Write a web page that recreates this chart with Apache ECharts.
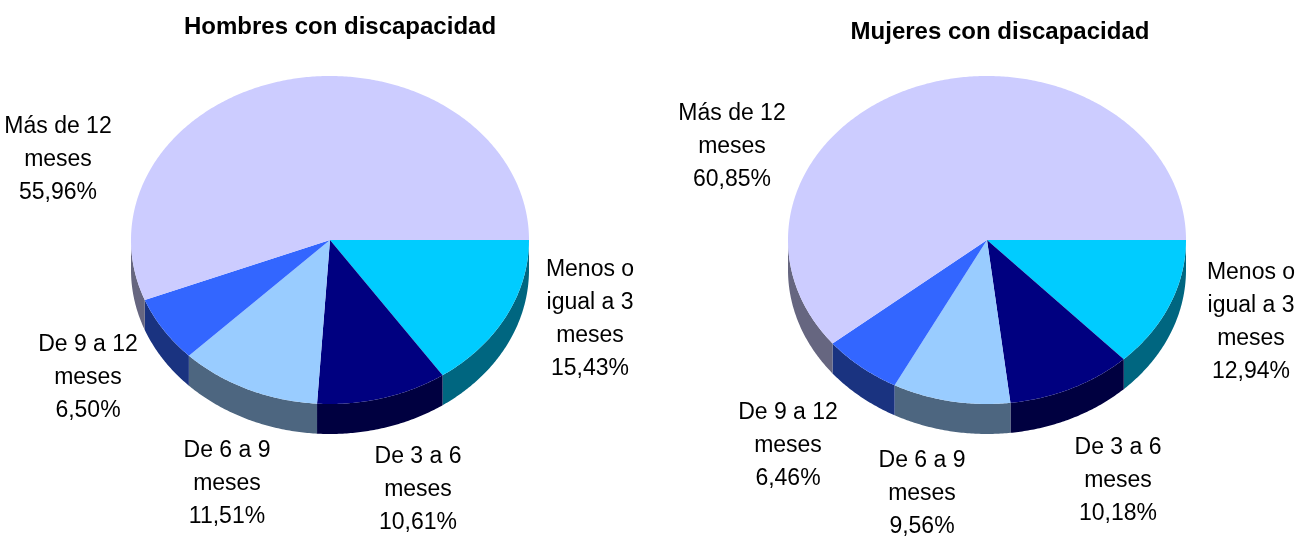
<!DOCTYPE html>
<html>
<head>
<meta charset="utf-8">
<script src="https://cdn.jsdelivr.net/npm/echarts@6/dist/echarts.min.js"></script>
<style>
    html, body { margin: 0; padding: 0; background: #ffffff; }
    #chart { width: 1296px; height: 536px; }
</style>
</head>
<body>
<div id="chart"></div>
<script>
// datos
var categorias = ['Menos o igual a 3 meses', 'De 3 a 6 meses', 'De 6 a 9 meses', 'De 9 a 12 meses', 'Más de 12 meses'];
var etiquetas = ['Menos o\nigual a 3\nmeses', 'De 3 a 6\nmeses', 'De 6 a 9\nmeses', 'De 9 a 12\nmeses', 'Más de 12\nmeses'];
var hombres = [15.43, 10.61, 11.51, 6.50, 55.96];
var mujeres = [12.94, 10.18, 9.56, 6.46, 60.85];
var colores = ['#00CCFF', '#000080', '#99CCFF', '#3366FF', '#CCCCFF'];

// posicion de las etiquetas (como en el original)
var etqHombres = [[590, 319], [418, 490], [227, 484], [88, 378], [58, 160]];
var etqMujeres = [[1251, 322], [1118, 481], [922, 494], [788, 446], [732, 147]];

function oscuro(hex) {
    var c = echarts.color.parse(hex);
    return 'rgb(' + Math.round(c[0] / 2) + ',' + Math.round(c[1] / 2) + ',' + Math.round(c[2] / 2) + ')';
}

function fmt(v) {
    return v.toFixed(2).replace('.', ',') + '%';
}

// tarta 3d: cara superior + pared lateral
function pie3d(valores, cx, cy, etq) {
    var rx = 199, ry = 164, alto = 30;
    var total = 0;
    for (var i = 0; i < valores.length; i++) total += valores[i];
    return function (params, api) {
        var idx = params.dataIndex;
        var ini = 0;
        for (var k = 0; k < idx; k++) ini += valores[k];
        var a0 = ini / total * 2 * Math.PI;
        var a1 = (ini + api.value(0)) / total * 2 * Math.PI;
        var hijos = [];

        var w0 = Math.max(a0, 0), w1 = Math.min(a1, Math.PI);
        if (w1 > w0) {
            var arriba = [], abajo = [];
            var m = Math.max(2, Math.ceil((w1 - w0) / 0.01));
            for (var s = 0; s <= m; s++) {
                var a = w0 + (w1 - w0) * s / m;
                arriba.push([cx + rx * Math.cos(a), cy + ry * Math.sin(a)]);
                abajo.unshift([cx + rx * Math.cos(a), cy + ry * Math.sin(a) + alto]);
            }
            hijos.push({
                type: 'polygon',
                shape: { points: arriba.concat(abajo) },
                style: { fill: oscuro(colores[idx]) }
            });
        }

        var cara = [[cx, cy]];
        var n = Math.max(2, Math.ceil((a1 - a0) / 0.01));
        for (var j = 0; j <= n; j++) {
            var b = a0 + (a1 - a0) * j / n;
            cara.push([cx + rx * Math.cos(b), cy + ry * Math.sin(b)]);
        }
        hijos.push({
            type: 'polygon',
            shape: { points: cara },
            style: { fill: colores[idx] }
        });

        hijos.push({
            type: 'text',
            x: etq[idx][0],
            y: etq[idx][1],
            style: {
                text: etiquetas[idx] + '\n' + fmt(api.value(0)),
                fill: '#000000',
                font: '23px "Liberation Sans Narrow", "Liberation Sans", Arial, sans-serif',
                lineHeight: 33,
                align: 'center',
                verticalAlign: 'middle'
            }
        });
        return { type: 'group', children: hijos };
    };
}

function datos(valores) {
    var d = [];
    for (var i = 0; i < valores.length; i++) {
        d.push({ value: [valores[i]], name: categorias[i] });
    }
    return d;
}

var myChart = echarts.init(document.getElementById('chart'));
var option = {
    animation: false,
    title: [
        {
            text: 'Hombres con discapacidad',
            left: 340,
            top: 15,
            padding: 0,
            textAlign: 'center',
            textStyle: { fontFamily: '"Liberation Sans", Arial, sans-serif', fontSize: 24, fontWeight: 'bold', color: '#000000' }
        },
        {
            text: 'Mujeres con discapacidad',
            left: 1000,
            top: 20,
            padding: 0,
            textAlign: 'center',
            textStyle: { fontFamily: '"Liberation Sans", Arial, sans-serif', fontSize: 24, fontWeight: 'bold', color: '#000000' }
        }
    ],
    series: [
        {
            name: 'Hombres con discapacidad',
            type: 'custom',
            coordinateSystem: 'none',
            renderItem: pie3d(hombres, 330, 240, etqHombres),
            data: datos(hombres)
        },
        {
            name: 'Mujeres con discapacidad',
            type: 'custom',
            coordinateSystem: 'none',
            renderItem: pie3d(mujeres, 987, 240, etqMujeres),
            data: datos(mujeres)
        }
    ]
};
myChart.setOption(option);
window.addEventListener('resize', function () { myChart.resize(); });
</script>
</body>
</html>
